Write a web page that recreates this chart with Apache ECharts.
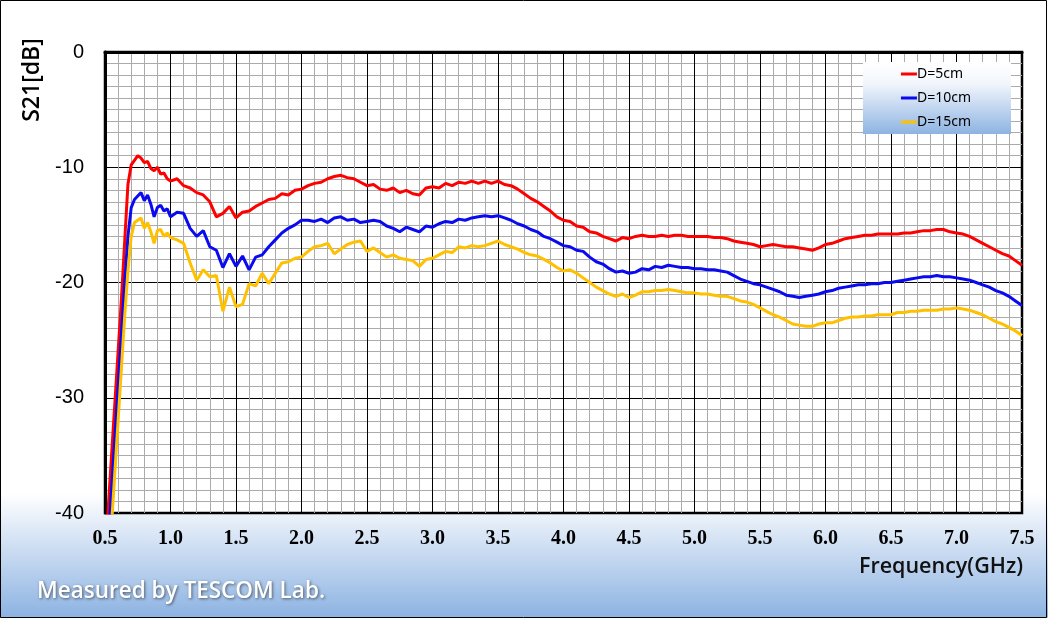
<!DOCTYPE html>
<html><head><meta charset="utf-8">
<script src="https://cdn.jsdelivr.net/npm/echarts@6/dist/echarts.min.js"></script>
<style>html,body{margin:0;padding:0;background:#fff}#c{width:1048px;height:621px}</style>
</head><body><div id="c"></div>
<script>
const freqLow = [0.500,0.525,0.550,0.575,0.600,0.625,0.650,0.675,0.700,0.725,0.750,0.775,0.800,0.825,0.850,0.875,0.900,0.925,0.950,0.975,1.000];
const freqHigh = [1.05,1.10,1.15,1.20,1.25,1.30,1.35,1.40,1.45,1.50,1.55,1.60,1.65,1.70,1.75,1.80,1.85,1.90,1.95,2.00,
2.05,2.10,2.15,2.20,2.25,2.30,2.35,2.40,2.45,2.50,2.55,2.60,2.65,2.70,2.75,2.80,2.85,2.90,2.95,3.00,
3.05,3.10,3.15,3.20,3.25,3.30,3.35,3.40,3.45,3.50,3.55,3.60,3.65,3.70,3.75,3.80,3.85,3.90,3.95,4.00,
4.05,4.10,4.15,4.20,4.25,4.30,4.35,4.40,4.45,4.50,4.55,4.60,4.65,4.70,4.75,4.80,4.85,4.90,4.95,5.00,
5.05,5.10,5.15,5.20,5.25,5.30,5.35,5.40,5.45,5.50,5.55,5.60,5.65,5.70,5.75,5.80,5.85,5.90,5.95,6.00,
6.05,6.10,6.15,6.20,6.25,6.30,6.35,6.40,6.45,6.50,6.55,6.60,6.65,6.70,6.75,6.80,6.85,6.90,6.95,7.00,
7.05,7.10,7.15,7.20,7.25,7.30,7.35,7.40,7.45,7.50];

const d5Low = [-44,-39.5,-35,-30.5,-26,-21.5,-16.5,-11.5,-9.8,-9.4,-9.0,-9.2,-9.6,-9.5,-10.1,-10.3,-10.0,-10.6,-10.5,-11.0,-11.2];
const d5High = [-11.0,-11.6,-11.8,-12.2,-12.4,-13.0,-14.3,-14.0,-13.4,-14.4,-13.9,-13.8,-13.4,-13.1,-12.8,-12.7,-12.3,-12.4,-12.0,-11.9,
-11.6,-11.4,-11.3,-11.0,-10.8,-10.7,-10.9,-11.0,-11.3,-11.6,-11.5,-11.9,-12.0,-11.8,-12.2,-12.0,-12.3,-12.4,-11.8,-11.7,
-11.8,-11.4,-11.6,-11.3,-11.4,-11.2,-11.4,-11.2,-11.4,-11.2,-11.5,-11.6,-11.9,-12.3,-12.7,-13.0,-13.4,-13.8,-14.3,-14.6,
-14.7,-15.1,-15.2,-15.6,-15.7,-16.0,-16.2,-16.4,-16.1,-16.2,-16.0,-15.9,-16.0,-16.0,-15.9,-16.0,-15.9,-15.9,-16.0,-16.0,
-16.0,-16.0,-16.1,-16.1,-16.2,-16.4,-16.5,-16.6,-16.7,-16.9,-16.8,-16.7,-16.8,-16.9,-16.9,-17.0,-17.1,-17.2,-17.0,-16.7,
-16.6,-16.4,-16.2,-16.1,-16.0,-15.9,-15.9,-15.8,-15.8,-15.8,-15.8,-15.7,-15.7,-15.6,-15.5,-15.5,-15.4,-15.4,-15.6,-15.7,
-15.8,-16.0,-16.3,-16.6,-16.9,-17.2,-17.5,-17.7,-18.1,-18.5];

const d10Low = [-48,-42.5,-38,-33.5,-29,-24.5,-20,-16,-13.5,-12.8,-12.5,-12.2,-12.9,-12.4,-13.2,-14.3,-13.5,-13.3,-13.8,-13.6,-14.3];
const d10High = [-13.9,-14.0,-15.3,-16.0,-15.5,-16.9,-17.2,-18.7,-17.5,-18.6,-17.7,-18.9,-17.8,-17.6,-16.9,-16.3,-15.7,-15.3,-15.0,-14.6,
-14.6,-14.7,-14.5,-14.8,-14.4,-14.3,-14.6,-14.5,-14.8,-14.7,-14.6,-14.7,-15.1,-15.3,-15.6,-15.2,-15.4,-15.6,-15.1,-15.2,
-14.9,-14.7,-14.8,-14.5,-14.6,-14.4,-14.3,-14.2,-14.3,-14.2,-14.4,-14.6,-14.9,-15.1,-15.4,-15.6,-16.0,-16.2,-16.5,-16.8,
-16.9,-17.2,-17.3,-17.8,-18.2,-18.4,-18.8,-19.1,-19.0,-19.2,-19.1,-18.8,-18.9,-18.6,-18.7,-18.5,-18.6,-18.7,-18.7,-18.8,
-18.8,-18.9,-18.9,-19.0,-19.1,-19.4,-19.7,-19.9,-20.1,-20.2,-20.4,-20.6,-20.8,-21.1,-21.2,-21.3,-21.2,-21.1,-21.0,-20.8,
-20.7,-20.5,-20.4,-20.3,-20.2,-20.2,-20.1,-20.1,-20.0,-20.0,-19.9,-19.8,-19.7,-19.6,-19.5,-19.5,-19.4,-19.5,-19.5,-19.6,
-19.7,-19.8,-20.0,-20.2,-20.4,-20.7,-20.9,-21.2,-21.6,-22.0];

const d15Low = [-52,-46,-41,-36.5,-32,-27.5,-23,-19,-16,-14.8,-14.6,-14.4,-15.3,-14.8,-15.6,-16.6,-15.5,-15.4,-16.0,-15.7,-16.1];
const d15High = [-16.3,-16.6,-18.3,-19.8,-18.9,-19.5,-19.4,-22.5,-20.4,-22.1,-21.9,-20.1,-20.3,-19.2,-20.1,-19.2,-18.3,-18.2,-17.9,-17.8,
-17.3,-16.9,-16.8,-16.6,-17.5,-17.1,-16.7,-16.5,-16.4,-17.3,-17.0,-17.4,-17.8,-17.6,-17.9,-18.0,-18.1,-18.6,-18.0,-17.9,
-17.6,-17.3,-17.4,-16.9,-17.0,-16.8,-16.9,-16.8,-16.6,-16.4,-16.7,-16.9,-17.1,-17.4,-17.6,-17.7,-18.0,-18.3,-18.7,-19.0,
-18.9,-19.2,-19.6,-20.0,-20.4,-20.7,-21.0,-21.2,-21.0,-21.3,-21.1,-20.8,-20.8,-20.7,-20.7,-20.6,-20.7,-20.8,-20.9,-20.9,
-21.0,-21.0,-21.1,-21.2,-21.2,-21.4,-21.6,-21.7,-21.9,-22.2,-22.5,-22.8,-23.0,-23.3,-23.6,-23.7,-23.8,-23.8,-23.6,-23.5,
-23.5,-23.3,-23.1,-23.0,-23.0,-22.9,-22.9,-22.8,-22.8,-22.8,-22.6,-22.6,-22.5,-22.5,-22.4,-22.4,-22.4,-22.3,-22.3,-22.2,
-22.3,-22.4,-22.6,-22.8,-23.1,-23.4,-23.6,-23.9,-24.2,-24.6];

const seriesNames = ['D=5cm','D=10cm','D=15cm'];
const seriesColors = ['#ff0000','#0a0af0','#ffc000'];
const yTicks = [-40,-30,-20,-10,0];

const freq = freqLow.concat(freqHigh);
const pairs = (low, high) => { const v = low.concat(high); return freq.map((f,i)=>[f,v[i]]); };
const allData = [pairs(d5Low,d5High), pairs(d10Low,d10High), pairs(d15Low,d15High)];

const chart = echarts.init(document.getElementById('c'), null, {renderer:'canvas'});
chart.setOption({
  animation:false,
  backgroundColor: new echarts.graphic.LinearGradient(0,0,0,617,[
    {offset:0,color:'#ffffff'},{offset:0.8,color:'#ffffff'},{offset:1,color:'#8db3e2'}], true),
  grid:{left:105,right:26,top:52,bottom:108,show:true,borderColor:'#000',borderWidth:2.5,backgroundColor:'#ffffff'},
  xAxis:{type:'value',min:0.5,max:7.5,interval:0.5,
    axisLine:{show:true,lineStyle:{color:'#000',width:3}},
    axisTick:{show:false},
    axisLabel:{margin:16,color:'#000',fontFamily:'Liberation Serif',fontWeight:'bold',fontSize:20,formatter:v=>v.toFixed(1)},
    splitLine:{show:true,lineStyle:{color:'#000',width:1}},
    minorTick:{show:false,splitNumber:5},
    minorSplitLine:{show:true,lineStyle:{color:'#ababab',width:1}}},
  yAxis:{type:'value',min:-40,max:0,interval:10,
    axisLine:{show:true,onZero:false,lineStyle:{color:'#000',width:3}},
    axisTick:{show:false},
    axisLabel:{margin:21,color:'#000',fontFamily:'Liberation Sans',fontSize:20,
      formatter:v=> yTicks.indexOf(v)>=0 ? String(v) : ''},
    splitLine:{show:true,lineStyle:{color:'#000',width:1}},
    minorTick:{show:false,splitNumber:10},
    minorSplitLine:{show:true,lineStyle:{color:'#ababab',width:1}}},
  legend:{orient:'vertical',right:37,top:62,z:5,
    data:seriesNames,icon:'rect',itemWidth:16,itemHeight:3,itemGap:10,
    padding:[5,40,5,38],
    backgroundColor:new echarts.graphic.LinearGradient(0,0,0,1,[
      {offset:0,color:'#ffffff'},{offset:0.3,color:'#f2f6fc'},{offset:1,color:'#8db3e2'}]),
    textStyle:{fontFamily:'Noto Sans',fontSize:14,color:'#000',padding:[0,0,0,-5]},
    itemStyle:{borderWidth:0}},
  graphic:[
    {type:'text',x:32,y:80,rotation:Math.PI/2,style:{text:'S21[dB]',font:'600 23px "Open Sans"',fill:'#000',textAlign:'center',textVerticalAlign:'middle'}},
    {type:'text',x:1023,y:567,style:{text:'Frequency(GHz)',font:'600 21.5px "Open Sans"',fill:'#111',textAlign:'right',textVerticalAlign:'middle'}},
    {type:'text',x:37,y:592,style:{text:'Measured by TESCOM Lab.',font:'600 22.5px "Open Sans"',fill:'#ffffff',textAlign:'left',textVerticalAlign:'middle',textShadowColor:'rgba(0,0,0,0.55)',textShadowBlur:3,textShadowOffsetX:1,textShadowOffsetY:1}},
    {type:'rect',shape:{x:0,y:617.5,width:1048,height:4},style:{fill:'#ffffff'},z:9},
    {type:'rect',shape:{x:0.5,y:0.5,width:1046,height:617},style:{fill:'none',stroke:'#000',lineWidth:1},z:10}
  ],
  series: seriesNames.map((n,i)=>({name:n,type:'line',data:allData[i],showSymbol:false,symbol:'none',
    lineStyle:{color:seriesColors[i],width:3},itemStyle:{color:seriesColors[i]},clip:true,z:3}))
});
</script></body></html>
